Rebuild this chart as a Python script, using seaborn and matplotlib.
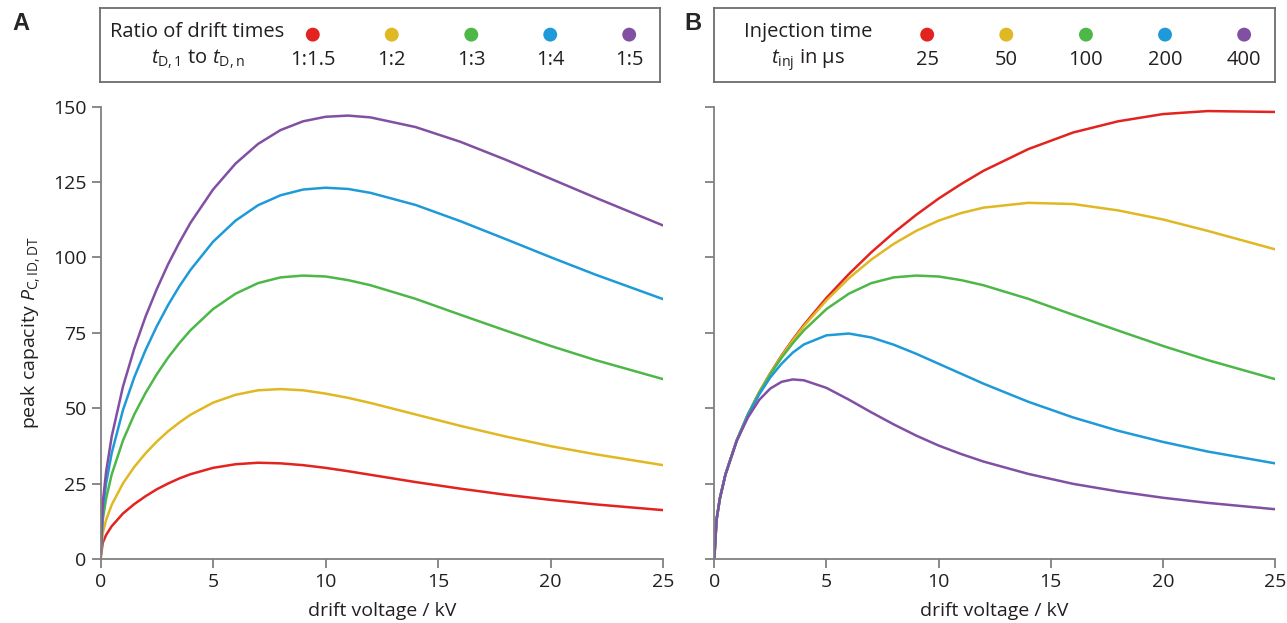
import pandas as pd
import matplotlib
matplotlib.use("Agg")
import matplotlib.pyplot as plt
import seaborn as sns

# Values (drift voltage in kV, peak capacity)
voltage = [0, 0.1, 0.25, 0.5, 1, 1.5, 2, 2.5, 3, 3.5, 4, 5, 6, 7, 8, 9, 10,
           11, 12, 14, 16, 18, 20, 22, 25]

# Panel A: ratio of drift times, injection time fixed
ratio_labels = ['1:1.5', '1:2', '1:3', '1:4', '1:5']
a_ratio_15 = [0, 5.5, 8.1, 11.0, 15.2, 18.3, 20.9, 23.2, 25.1, 26.8, 28.2, 30.3, 31.5,
              32.0, 31.8, 31.2, 30.3, 29.2, 28.0, 25.6, 23.4, 21.4, 19.7, 18.2, 16.3]
a_ratio_2 = [0, 8.7, 13.1, 18.1, 25.2, 30.6, 35.1, 39.0, 42.4, 45.3, 47.9, 51.9, 54.5,
             56.0, 56.4, 56.0, 54.9, 53.5, 51.8, 48.0, 44.2, 40.7, 37.5, 34.8, 31.2]
a_ratio_3 = [0, 13.1, 20.2, 28.2, 39.4, 48.0, 55.1, 61.3, 66.8, 71.6, 75.9, 82.9, 88.0,
             91.5, 93.4, 94.0, 93.7, 92.5, 90.8, 86.3, 81.0, 75.8, 70.7, 66.0, 59.7]
a_ratio_4 = [0, 16.3, 25.2, 35.3, 49.5, 60.3, 69.3, 77.2, 84.2, 90.4, 95.9, 105.2, 112.2,
             117.3, 120.6, 122.5, 123.1, 122.7, 121.4, 117.4, 112.0, 106.1, 100.1, 94.3, 86.2]
a_ratio_5 = [0, 18.8, 29.1, 40.8, 57.3, 69.8, 80.4, 89.5, 97.7, 104.9, 111.5, 122.5, 131.1,
             137.6, 142.2, 145.1, 146.6, 147.0, 146.4, 143.2, 138.3, 132.4, 126.1, 119.8, 110.6]

# Panel B: injection time in microseconds, ratio fixed at 1:3
inj_labels = ['25', '50', '100', '200', '400']
b_inj_25 = [0, 13.1, 20.2, 28.2, 39.4, 48.0, 55.3, 61.7, 67.5, 72.8, 77.7, 86.6, 94.5,
            101.7, 108.2, 114.1, 119.5, 124.3, 128.7, 135.9, 141.4, 145.1, 147.5, 148.5, 148.2]
b_inj_50 = [0, 13.1, 20.2, 28.2, 39.4, 48.0, 55.3, 61.6, 67.3, 72.5, 77.3, 85.8, 93.1,
            99.3, 104.5, 108.8, 112.2, 114.7, 116.5, 118.1, 117.7, 115.6, 112.6, 108.8, 102.7]
b_inj_100 = [0, 13.1, 20.2, 28.2, 39.4, 48.0, 55.1, 61.3, 66.8, 71.6, 75.9, 82.9, 88.0,
             91.5, 93.4, 94.0, 93.7, 92.5, 90.8, 86.3, 81.0, 75.8, 70.7, 66.0, 59.7]
b_inj_200 = [0, 13.1, 20.2, 28.2, 39.3, 47.8, 54.6, 60.3, 64.8, 68.5, 71.2, 74.2, 74.8,
             73.5, 71.1, 68.1, 64.8, 61.5, 58.2, 52.2, 47.0, 42.6, 38.9, 35.7, 31.8]
b_inj_400 = [0, 13.1, 20.2, 28.1, 39.2, 47.0, 52.8, 56.6, 58.8, 59.6, 59.3, 56.8, 52.9,
             48.7, 44.7, 41.0, 37.7, 34.9, 32.4, 28.3, 25.0, 22.5, 20.4, 18.7, 16.6]

colors = ['#e3231f', '#dfb823', '#4db748', '#1f9ad9', '#8250a2']


def long_table(series, labels, name):
    rows = []
    for lab, vals in zip(labels, series):
        for v, p in zip(voltage, vals):
            rows.append({'voltage': v, 'capacity': p, name: lab})
    return pd.DataFrame(rows)


df_a = long_table([a_ratio_15, a_ratio_2, a_ratio_3, a_ratio_4, a_ratio_5], ratio_labels, 'ratio')
df_b = long_table([b_inj_25, b_inj_50, b_inj_100, b_inj_200, b_inj_400], inj_labels, 'tinj')

sns.set_style("ticks")
plt.rcParams['font.family'] = ['Open Sans', 'DejaVu Sans']
plt.rcParams['mathtext.fontset'] = 'custom'
plt.rcParams['mathtext.rm'] = 'Open Sans'
plt.rcParams['mathtext.it'] = 'Open Sans:italic'

fig = plt.figure(figsize=(12.87, 6.23), dpi=100)
ax_a = fig.add_axes([0.0781, 0.1022, 0.4371, 0.7268])
ax_b = fig.add_axes([0.5550, 0.1022, 0.4357, 0.7268])

sns.lineplot(data=df_a, x='voltage', y='capacity', hue='ratio', hue_order=ratio_labels,
             palette=colors, legend=False, ax=ax_a, linewidth=1.8)
sns.lineplot(data=df_b, x='voltage', y='capacity', hue='tinj', hue_order=inj_labels,
             palette=colors, legend=False, ax=ax_b, linewidth=1.8)

grey = '#808080'
txt = '#231f20'
for ax in (ax_a, ax_b):
    ax.set_xlim(0, 25)
    ax.set_ylim(0, 150)
    ax.set_xticks([0, 5, 10, 15, 20, 25])
    ax.set_yticks([0, 25, 50, 75, 100, 125, 150])
    sns.despine(ax=ax)
    for s in ('left', 'bottom'):
        ax.spines[s].set_color(grey)
        ax.spines[s].set_linewidth(1.3)
    ax.tick_params(color=grey, width=1.3, length=6.5, labelsize=14, labelcolor=txt, pad=3.5)
    ax.set_xlabel('drift voltage / kV', fontsize=14, color=txt, labelpad=8)

ax_a.set_ylabel('peak capacity $P_{\\mathrm{C,ID,DT}}$', fontsize=14, color=txt, labelpad=7)
ax_b.set_ylabel('')
ax_b.tick_params(axis='y', labelleft=False)

fig.text(0.0093, 0.962, 'A', fontsize=17, fontweight='bold', family='Liberation Sans', va='center')
fig.text(0.532, 0.962, 'B', fontsize=17, fontweight='bold', family='Liberation Sans', va='center')

# Legend boxes drawn above each panel
dot_x = [0.380, 0.521, 0.663, 0.804, 0.945]
legends = [
    ([100 / 1287, 1 - 82 / 623, 560 / 1287, 74 / 623], 'Ratio of drift times',
     '$t_{\\mathrm{D,1}}$ to $t_{\\mathrm{D,n}}$', ratio_labels, 0.174),
    ([714 / 1287, 1 - 82 / 623, 561 / 1287, 74 / 623], 'Injection time',
     '$t_{\\mathrm{inj}}$ in µs', inj_labels, 0.168),
]
for rect, title, sub, labels, tx in legends:
    lg = fig.add_axes(rect)
    lg.set_xlim(0, 1)
    lg.set_ylim(0, 1)
    lg.set_xticks([])
    lg.set_yticks([])
    for s in lg.spines.values():
        s.set_color('#6d6d6d')
        s.set_linewidth(1.3)
    lg.text(tx, 0.68, title, ha='center', va='center', fontsize=14.5, color=txt)
    lg.text(tx, 0.30, sub, ha='center', va='center', fontsize=14.5, color=txt)
    lg.scatter(dot_x, [0.64] * 5, s=100, c=colors, edgecolors='none')
    for x, lab in zip(dot_x, labels):
        lg.text(x, 0.30, lab, ha='center', va='center', fontsize=14.5, color=txt)

fig.savefig('out.png', dpi=100)
